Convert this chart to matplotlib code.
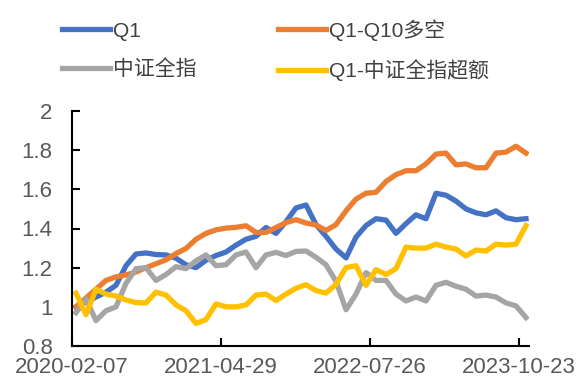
import matplotlib.pyplot as plt
import numpy as np

plt.rcParams['font.family'] = ['Liberation Sans', 'Noto Sans CJK SC', 'DejaVu Sans']

# 数据
q1 = [1.0, 1.025, 1.05, 1.075, 1.11, 1.21, 1.27, 1.275, 1.267, 1.265,
      1.248, 1.215, 1.2, 1.238, 1.262, 1.28, 1.315, 1.345, 1.36, 1.405,
      1.375, 1.435, 1.505, 1.52, 1.42, 1.36, 1.295, 1.25, 1.356, 1.415,
      1.45, 1.443, 1.375, 1.425, 1.47, 1.45, 1.58, 1.57, 1.54, 1.5,
      1.48, 1.47, 1.49, 1.455, 1.445, 1.45]
long_short = [1.0, 1.045, 1.09, 1.135, 1.153, 1.163, 1.178, 1.2, 1.22, 1.24,
              1.272, 1.298, 1.345, 1.375, 1.393, 1.402, 1.406, 1.414, 1.38, 1.38,
              1.405, 1.43, 1.445, 1.428, 1.418, 1.39, 1.42, 1.49, 1.55, 1.58,
              1.585, 1.64, 1.675, 1.695, 1.695, 1.73, 1.78, 1.785, 1.725, 1.73,
              1.71, 1.71, 1.785, 1.79, 1.82, 1.785]
index_all = [0.97, 1.04, 0.93, 0.98, 1.0, 1.12, 1.195, 1.2, 1.135, 1.165,
             1.205, 1.195, 1.235, 1.265, 1.21, 1.215, 1.265, 1.28, 1.2, 1.265,
             1.278, 1.262, 1.283, 1.285, 1.253, 1.215, 1.13, 0.985, 1.065, 1.175,
             1.135, 1.135, 1.065, 1.03, 1.05, 1.03, 1.11, 1.125, 1.105, 1.09,
             1.055, 1.06, 1.05, 1.02, 1.005, 0.945]
excess = [1.07, 0.96, 1.09, 1.065, 1.055, 1.035, 1.022, 1.02, 1.075, 1.06,
          1.01, 0.98, 0.915, 0.935, 1.015, 1.0, 1.0, 1.01, 1.06, 1.065,
          1.032, 1.065, 1.095, 1.113, 1.083, 1.07, 1.115, 1.2, 1.21, 1.11,
          1.19, 1.165, 1.195, 1.305, 1.3, 1.3, 1.32, 1.305, 1.295, 1.26,
          1.29, 1.285, 1.32, 1.315, 1.32, 1.415]

tick_labels = ['2020-02-07', '2021-04-29', '2022-07-26', '2023-10-23']
tick_pos = [-0.4, 14.5, 29.4, 44.3]

x = np.arange(len(q1))

fig = plt.figure(figsize=(5.85, 3.9), dpi=100)
ax = fig.add_axes([72 / 585, 44 / 390, 457 / 585, 235 / 390])

lw = 3.8
l_q1, = ax.plot(x, q1, color='#4472C4', lw=lw, label='Q1', solid_joinstyle='round')
l_ls, = ax.plot(x, long_short, color='#ED7D31', lw=lw, label='Q1-Q10多空', solid_joinstyle='round')
l_idx, = ax.plot(x, index_all, color='#A5A5A5', lw=lw, label='中证全指', solid_joinstyle='round')
l_ex, = ax.plot(x, excess, color='#FFC000', lw=lw, label='Q1-中证全指超额', solid_joinstyle='round')

ax.set_xlim(-0.4, 45.3)
ax.set_ylim(0.8, 2.0)
ax.set_yticks([0.8, 1.0, 1.2, 1.4, 1.6, 1.8, 2.0])
ax.set_yticklabels(['0.8', '1', '1.2', '1.4', '1.6', '1.8', '2'])
ax.set_xticks(tick_pos)
ax.set_xticklabels(tick_labels)

for side in ['top', 'right']:
    ax.spines[side].set_visible(False)
for side in ['left', 'bottom']:
    ax.spines[side].set_linewidth(1.5)
ax.tick_params(direction='in', length=6, width=1.5, colors='black',
               labelcolor='#595959', labelsize=16)
ax.tick_params(axis='y', pad=14)
ax.tick_params(axis='x', pad=8)

# 图例按行排列：Q1 / 多空，第二行 中证全指 / 超额
handles = [l_q1, l_idx, l_ls, l_ex]
fig.legend(handles=handles, labels=[h.get_label() for h in handles],
           loc='upper left', bbox_to_anchor=(62 / 585, 1 - 19 / 390), ncol=2,
           frameon=False, fontsize=15, handlelength=2.3, handletextpad=0.15,
           columnspacing=3.9, labelspacing=0.9, borderpad=0, borderaxespad=0,
           labelcolor='#404040')

fig.savefig('out.png', dpi=100)
